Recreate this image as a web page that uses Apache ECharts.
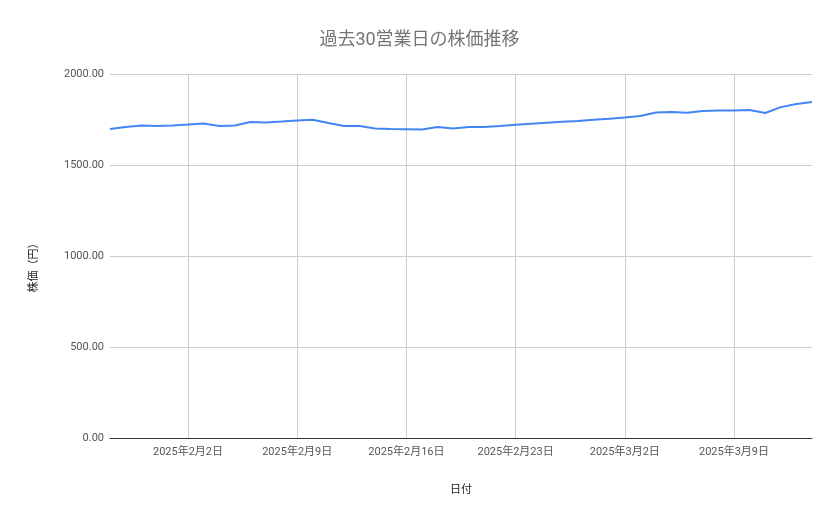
<!DOCTYPE html>
<html><head><meta charset="utf-8">
<script src="https://cdn.jsdelivr.net/npm/echarts@6/dist/echarts.min.js"></script>
<style>html,body{margin:0;padding:0;background:#fff}#c{width:839px;height:519px}</style>
</head><body><div id="c"></div>
<script>
const dates = ['2025-01-28','2025-01-29','2025-01-30','2025-01-31','2025-02-01','2025-02-02','2025-02-03','2025-02-04','2025-02-05','2025-02-06','2025-02-07','2025-02-08','2025-02-09','2025-02-10','2025-02-11','2025-02-12','2025-02-13','2025-02-14','2025-02-15','2025-02-16','2025-02-17','2025-02-18','2025-02-19','2025-02-20','2025-02-21','2025-02-22','2025-02-23','2025-02-24','2025-02-25','2025-02-26','2025-02-27','2025-02-28','2025-03-01','2025-03-02','2025-03-03','2025-03-04','2025-03-05','2025-03-06','2025-03-07','2025-03-08','2025-03-09','2025-03-10','2025-03-11','2025-03-12','2025-03-13','2025-03-14'];
const prices = [1698,1709,1717,1714,1717,1722,1728,1714,1717,1736,1734,1739,1745,1749,1731,1714,1714,1700,1698,1697,1695,1709,1700,1709,1709,1714,1721,1727,1732,1737,1742,1748,1754,1761,1769,1788,1791,1787,1797,1799,1800,1802,1786,1818,1835,1846];
const yTicks = [0,500,1000,1500,2000];
const FONT = "Roboto, 'Noto Sans CJK JP', sans-serif";
function isSunday(i){ return new Date(dates[i]+'T00:00:00Z').getUTCDay() === 0; }
function fmt(d){ const t=new Date(d+'T00:00:00Z'); return t.getUTCFullYear()+'年'+(t.getUTCMonth()+1)+'月'+t.getUTCDate()+'日'; }
const chart = echarts.init(document.getElementById('c'));
chart.setOption({
  animation:false,
  title:{text:'過去30営業日の株価推移',left:'center',top:27,textStyle:{fontFamily:FONT,fontSize:18,fontWeight:'normal',color:'#757575'}},
  grid:{left:110,right:27,top:74,bottom:81,containLabel:false},
  xAxis:{type:'category',data:dates,boundaryGap:false,
    name:'日付',nameLocation:'middle',nameGap:47,nameTextStyle:{fontFamily:FONT,fontSize:11,color:'#222'},
    axisLine:{lineStyle:{color:'#333',width:1}},axisTick:{show:false},
    axisLabel:{interval:(i)=>isSunday(i),formatter:(v)=>fmt(v),fontFamily:FONT,fontSize:11,color:'#555',margin:9},
    splitLine:{show:true,interval:(i)=>isSunday(i),lineStyle:{color:'#cccccc',width:1}}},
  yAxis:{type:'value',min:yTicks[0],max:yTicks[yTicks.length-1],interval:500,
    name:'株価（円）',nameLocation:'middle',nameGap:70,nameTextStyle:{fontFamily:FONT,fontSize:11,color:'#222',padding:[0,18,0,0]},
    axisLine:{show:false},axisTick:{show:false},
    axisLabel:{formatter:(v)=>v.toFixed(2),fontFamily:FONT,fontSize:11,color:'#555',margin:6},
    splitLine:{lineStyle:{color:'#cccccc',width:1}}},
  series:[{type:'line',data:prices,showSymbol:false,lineStyle:{color:'#4285F4',width:2},itemStyle:{color:'#4285F4'}}]
});
</script></body></html>
